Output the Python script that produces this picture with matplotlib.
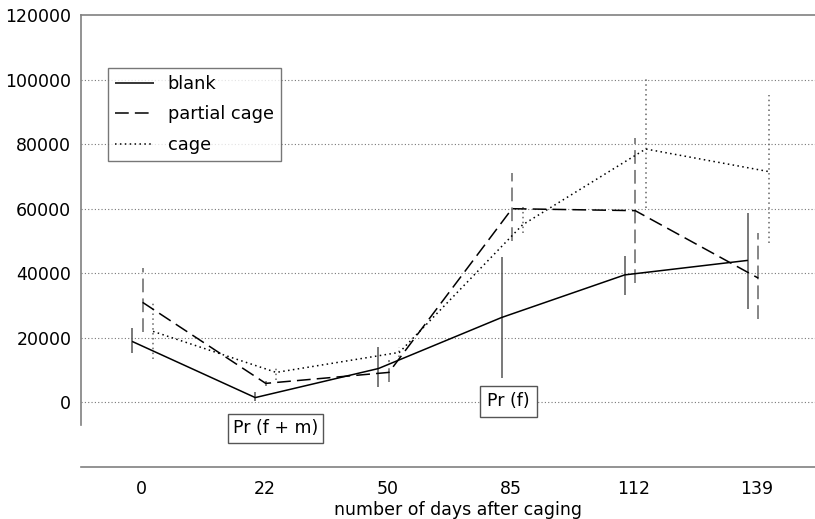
import matplotlib
matplotlib.use("Agg")
import matplotlib.pyplot as plt
import numpy as np

plt.rcParams['font.family'] = ['DejaVu Sans']

# Sampling days after caging (categorical axis)
days = ["0", "22", "50", "85", "112", "139"]

# Mean abundance and error-bar limits per treatment
blank = [18900, 1500, 10500, 26300, 39500, 44000]
blank_lo = [15200, 300, 4800, 7700, 33400, 28800]
blank_hi = [23000, 3100, 17300, 45100, 45200, 58800]

partial = [31000, 5900, 9300, 60000, 59400, 38500]
partial_lo = [21700, 5000, 6200, 50000, 37100, 25700]
partial_hi = [41500, 6500, 13000, 71200, 82000, 52600]

cage = [22000, 9300, 15500, 55000, 78500, 71500]
cage_lo = [13300, 7100, 14200, 52600, 60300, 49500]
cage_hi = [31300, 11100, 17300, 60700, 100500, 95300]

yticks = [0, 20000, 40000, 60000, 80000, 100000, 120000]

fig = plt.figure(figsize=(8.15, 5.19), dpi=100)
ax = fig.add_axes([81 / 815, 1 - 467 / 519, 734 / 815, 452 / 519])

x = np.arange(len(days))
series = [
    ("blank", blank, blank_lo, blank_hi, -0.075, (0, ()), "#555555"),
    ("partial cage", partial, partial_lo, partial_hi, 0.01, (0, (9, 4)), "#666666"),
    ("cage", cage, cage_lo, cage_hi, 0.095, (0, (1, 2.2)), "#666666"),
]

for name, vals, lo, hi, off, dash, ecol in series:
    xs = x + off
    ax.vlines(xs, lo, hi, colors=ecol, linestyles=[dash], linewidth=1.1, zorder=2)
    ax.plot(xs, vals, color="black", linestyle=dash, linewidth=1.1,
            label=name, zorder=3)

# Gridlines
for y in yticks[:-1]:
    ax.axhline(y, color="#777777", linestyle=(0, (1, 2)), linewidth=0.8, zorder=1)

ax.set_xlim(-0.49, 5.47)
ax.set_ylim(-20000, 120000)
ax.set_xticks(x)
ax.set_xticklabels(days)
ax.set_yticks(yticks)
ax.set_yticklabels([str(v) for v in yticks])
ax.tick_params(axis="y", length=0, pad=7, labelsize=12.5, colors="black")
ax.tick_params(axis="x", length=0, pad=9, labelsize=12.5, colors="black")

for s in ("top", "left", "bottom"):
    ax.spines[s].set_color("#808080")
    ax.spines[s].set_linewidth(1.2)
ax.spines["right"].set_visible(False)
ax.spines["left"].set_bounds(-7000, 120000)

ax.set_xlabel("number of days after caging", fontsize=12.5)
ax.xaxis.set_label_coords(0.514, -0.075)

ax.text(1.09, -8050, "Pr (f + m)", ha="center", va="center", fontsize=12.5,
        bbox=dict(boxstyle="square,pad=0.3", fc="white", ec="#555555", lw=1))
ax.text(2.98, 300, "Pr (f)", ha="center", va="center", fontsize=12.5,
        bbox=dict(boxstyle="square,pad=0.4", fc="white", ec="#555555", lw=1))

leg = ax.legend(loc="upper left", bbox_to_anchor=(0.037, 0.883), fontsize=12.8,
                frameon=True, fancybox=False, edgecolor="#555555",
                handlelength=2.2, handletextpad=0.75, labelspacing=0.7,
                borderpad=0.4, borderaxespad=0)
leg.get_frame().set_linewidth(1.0)

fig.savefig("out.png", dpi=100)
